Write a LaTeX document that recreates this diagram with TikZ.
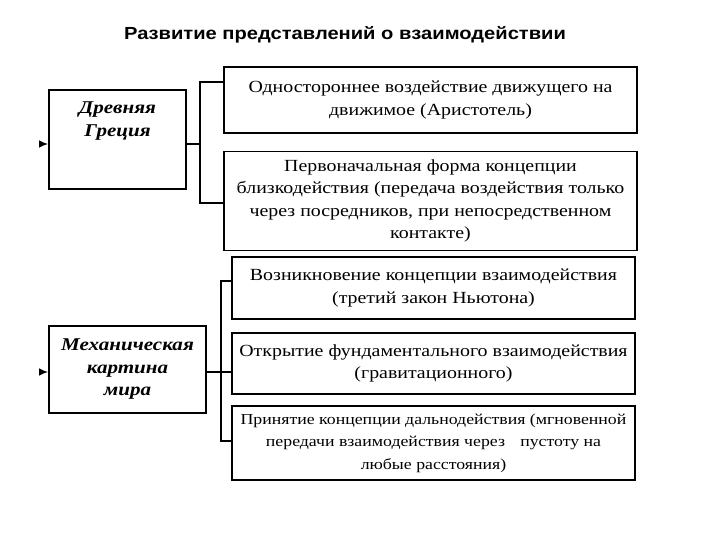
\documentclass[tikz,border=0pt]{standalone}
\usepackage{fontspec}
\setmainfont[FakeStretch=1.17]{Liberation Serif}
\setsansfont[FakeStretch=1.15]{Liberation Sans}
\usetikzlibrary{arrows.meta,calc}
\tikzset{
  era/.style      = {draw, line width=2pt, inner sep=0pt},
  eratext/.style  = {align=center, font=\fontsize{18}{22.5}\selectfont\bfseries\itshape},
  stage/.style    = {draw, line width=1.4pt, inner sep=0pt, align=center, font=\fontsize{17}{22.5}\selectfont},
  bracket/.style  = {line width=1.2pt},
  feed/.style     = {-{Latex[length=9pt,width=7.5pt]}, line width=1pt}
}

\begin{document}
\begin{tikzpicture}[x=1pt, y=-1pt]
    \useasboundingbox (0,0) rectangle (720,540);
    \node[font=\sffamily\bfseries\fontsize{17.5}{20}\selectfont] (title) at (345,35) {Развитие представлений о взаимодействии};
    % Ancient Greece
    \node[era, minimum width=137pt, minimum height=99pt] (greece) at (117.5,139.5) {};
    \node[eratext] (greecetxt) at (117.5,121) {Древняя\\Греция};
    \node[stage, minimum width=413pt, minimum height=66pt] (s1) at (430.5,100)
      {Одностороннее воздействие движущего на\\движимое (Аристотель)};
    \node[stage, minimum width=413pt, minimum height=99pt] (s2) at (430.5,201)
      {Первоначальная форма концепции\\близкодействия (передача воздействия только\\через посредников, при непосредственном\\контакте)};
    % Mechanical picture of the world
    \node[era, eratext, minimum width=157pt, minimum height=87pt] (mech) at (127.5,369.5)
      {Механическая\\картина\\мира};
    \node[stage, minimum width=403pt, minimum height=62pt] (s3) at (433.5,288)
      {Возникновение концепции взаимодействия\\(третий закон Ньютона)};
    \node[stage, minimum width=403pt, minimum height=61pt] (s4) at (433.5,363.5)
      {Открытие фундаментального взаимодействия\\(гравитационного)};
    \node[stage, font=\fontsize{15.2}{22.5}\selectfont, minimum width=403pt, minimum height=74pt] (s5) at (433.5,443)
      {Принятие концепции дальнодействия (мгновенной\\передачи взаимодействия через\quad пустоту на\\любые расстояния)};
    % Connectors
    \coordinate (gin) at (39,144);
    \coordinate (gfork) at (200,144);
    \coordinate (g1) at ($(s1.west)+(0,-18)$);
    \coordinate (g2) at ($(s2.west)+(0,2)$);
    \draw[feed] (gin) -- (gin -| greece.west);
    \draw[bracket] (gin -| greece.east) -- (gfork);
    \draw[bracket] (g1) -| (gfork) |- (g2);
    \coordinate (min) at (39,372);
    \coordinate (mfork) at (221,372);
    \coordinate (m1) at ($(s3.west)+(0,-7)$);
    \coordinate (m2) at ($(s5.west)+(0,-2)$);
    \draw[feed] (min) -- (min -| mech.west);
    \draw[bracket] (min -| mech.east) -- (min -| s4.west);
    \draw[bracket] (m1) -| (mfork) |- (m2);
  \end{tikzpicture}
\end{document}
